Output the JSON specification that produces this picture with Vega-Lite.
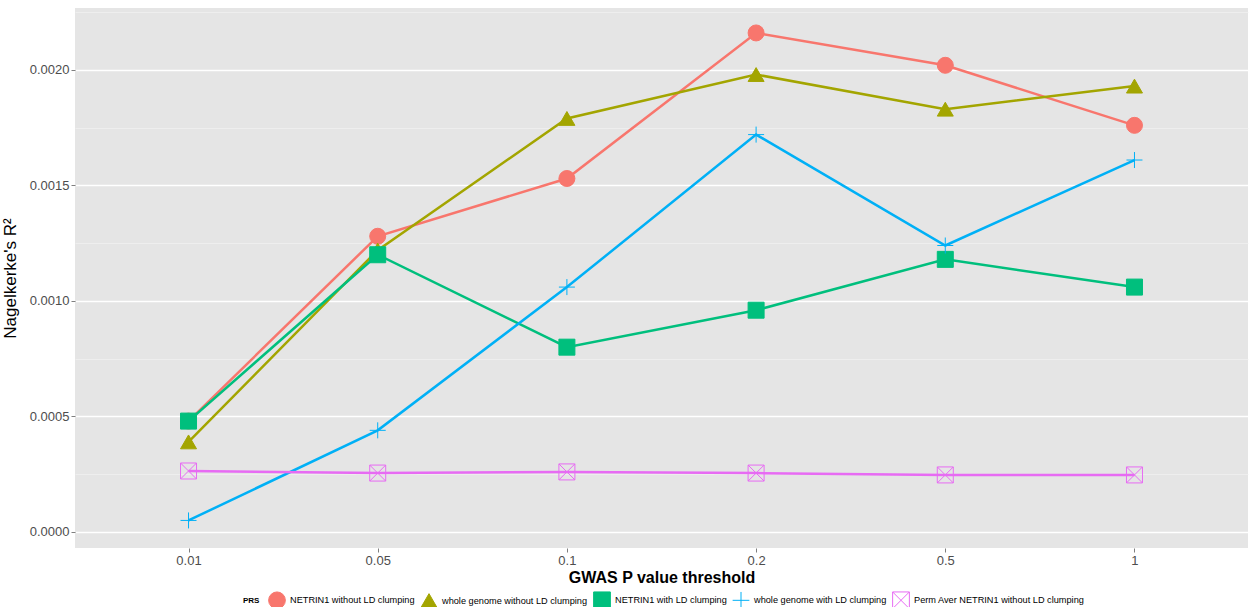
{
  "$schema": "https://vega.github.io/schema/vega-lite/v6.json",
  "width": 1173,
  "height": 540,
  "autosize": {"type": "none"},
  "padding": {"left": 75, "top": 8, "right": 2, "bottom": 59},
  "background": "white",
  "config": {
    "font": "Liberation Sans",
    "view": {"fill": "#E5E5E5", "stroke": null},
    "axis": {"domain": false, "gridColor": "white", "tickColor": "#7F7F7F", "tickSize": 4, "labelColor": "#4D4D4D", "labelFontSize": 13, "labelFont": "Liberation Sans", "titleFont": "Liberation Sans"}
  },
  "data": {
    "values": [
      {"p": "0.01", "series": "NETRIN1 without LD clumping", "r2": 0.00048},
      {"p": "0.05", "series": "NETRIN1 without LD clumping", "r2": 0.00128},
      {"p": "0.1", "series": "NETRIN1 without LD clumping", "r2": 0.00153},
      {"p": "0.2", "series": "NETRIN1 without LD clumping", "r2": 0.00216},
      {"p": "0.5", "series": "NETRIN1 without LD clumping", "r2": 0.00202},
      {"p": "1", "series": "NETRIN1 without LD clumping", "r2": 0.00176},
      {"p": "0.01", "series": "whole genome without LD clumping", "r2": 0.00039},
      {"p": "0.05", "series": "whole genome without LD clumping", "r2": 0.00122},
      {"p": "0.1", "series": "whole genome without LD clumping", "r2": 0.00179},
      {"p": "0.2", "series": "whole genome without LD clumping", "r2": 0.00198},
      {"p": "0.5", "series": "whole genome without LD clumping", "r2": 0.00183},
      {"p": "1", "series": "whole genome without LD clumping", "r2": 0.00193},
      {"p": "0.01", "series": "NETRIN1 with LD clumping", "r2": 0.00048},
      {"p": "0.05", "series": "NETRIN1 with LD clumping", "r2": 0.0012},
      {"p": "0.1", "series": "NETRIN1 with LD clumping", "r2": 0.0008},
      {"p": "0.2", "series": "NETRIN1 with LD clumping", "r2": 0.00096},
      {"p": "0.5", "series": "NETRIN1 with LD clumping", "r2": 0.00118},
      {"p": "1", "series": "NETRIN1 with LD clumping", "r2": 0.00106},
      {"p": "0.01", "series": "whole genome with LD clumping", "r2": 0.00005},
      {"p": "0.05", "series": "whole genome with LD clumping", "r2": 0.00044},
      {"p": "0.1", "series": "whole genome with LD clumping", "r2": 0.00106},
      {"p": "0.2", "series": "whole genome with LD clumping", "r2": 0.00172},
      {"p": "0.5", "series": "whole genome with LD clumping", "r2": 0.00124},
      {"p": "1", "series": "whole genome with LD clumping", "r2": 0.00161},
      {"p": "0.01", "series": "Perm Aver NETRIN1 without LD clumping", "r2": 0.000264},
      {"p": "0.05", "series": "Perm Aver NETRIN1 without LD clumping", "r2": 0.000255},
      {"p": "0.1", "series": "Perm Aver NETRIN1 without LD clumping", "r2": 0.00026},
      {"p": "0.2", "series": "Perm Aver NETRIN1 without LD clumping", "r2": 0.000255},
      {"p": "0.5", "series": "Perm Aver NETRIN1 without LD clumping", "r2": 0.000247},
      {"p": "1", "series": "Perm Aver NETRIN1 without LD clumping", "r2": 0.000247}
    ]
  },
  "encoding": {
    "x": {
      "field": "p", "type": "ordinal", "sort": ["0.01", "0.05", "0.1", "0.2", "0.5", "1"],
      "scale": {"type": "point", "padding": 0.6},
      "axis": {"title": "GWAS P value threshold", "titleFontSize": 16, "titleFontWeight": "bold", "titleColor": "black", "labelAngle": 0, "gridWidth": 1.4, "labelPadding": 2, "titlePadding": 2}
    },
    "y": {
      "field": "r2", "type": "quantitative",
      "scale": {"domain": [-0.0000693, 0.002268], "nice": false, "zero": false},
      "axis": {
        "title": "Nagelkerke's R²", "titleFontSize": 17, "titleFontWeight": "normal", "titleColor": "black", "titlePadding": 10,
        "values": [0, 0.00025, 0.0005, 0.00075, 0.001, 0.00125, 0.0015, 0.00175, 0.002, 0.00225],
        "format": ".4f",
        "labelExpr": "abs(datum.value*2000 - round(datum.value*2000)) < 0.01 ? datum.label : ''",
        "tickOpacity": {"condition": {"test": "abs(datum.value*2000 - round(datum.value*2000)) < 0.01", "value": 1}, "value": 0},
        "gridColor": {"condition": {"test": "abs(datum.value*2000 - round(datum.value*2000)) < 0.01", "value": "#FFFFFF"}, "value": "#F2F2F2"},
        "gridWidth": {"condition": {"test": "abs(datum.value*2000 - round(datum.value*2000)) < 0.01", "value": 1.4}, "value": 0.7}
      }
    }
  },
  "layer": [
    {
      "mark": {"type": "line", "strokeWidth": 2.5},
      "encoding": {
        "stroke": {"field": "series", "type": "nominal",
          "scale": {"domain": ["NETRIN1 without LD clumping", "whole genome without LD clumping", "NETRIN1 with LD clumping", "whole genome with LD clumping", "Perm Aver NETRIN1 without LD clumping"],
                    "range": ["#F8766D", "#A3A500", "#00BF7D", "#00B0F6", "#E76BF3"]}}
      }
    },
    {
      "mark": {"type": "point", "filled": false, "strokeWidth": 1, "opacity": 1, "size": 256},
      "encoding": {
        "stroke": {"field": "series", "type": "nominal",
          "legend": {"orient": "none", "legendX": 168, "legendY": 583, "direction": "horizontal", "title": "PRS", "titleOrient": "left", "titleFontSize": 8, "titleFontWeight": "bold", "labelFontSize": 9.2, "labelLimit": 400, "labelColor": "black", "symbolSize": 280, "symbolStrokeWidth": 1, "columnPadding": 3, "labelOffset": 4, "titlePadding": 8}},
        "fill": {"field": "series", "type": "nominal",
          "scale": {"domain": ["NETRIN1 without LD clumping", "whole genome without LD clumping", "NETRIN1 with LD clumping", "whole genome with LD clumping", "Perm Aver NETRIN1 without LD clumping"],
                    "range": ["#F8766D", "#A3A500", "#00BF7D", "transparent", "transparent"]},
          "legend": {"orient": "none", "legendX": 168, "legendY": 583, "direction": "horizontal", "title": "PRS", "titleOrient": "left", "titleFontSize": 8, "titleFontWeight": "bold", "labelFontSize": 9.2, "labelLimit": 400, "labelColor": "black", "symbolSize": 280, "symbolStrokeWidth": 1, "columnPadding": 3, "labelOffset": 4, "titlePadding": 8}},
        "shape": {"field": "series", "type": "nominal",
          "scale": {"domain": ["NETRIN1 without LD clumping", "whole genome without LD clumping", "NETRIN1 with LD clumping", "whole genome with LD clumping", "Perm Aver NETRIN1 without LD clumping"],
                    "range": ["circle", "triangle-up", "square", "M-1,0L1,0M0,-1L0,1", "M-1,-1L1,-1L1,1L-1,1ZM-1,-1L1,1M-1,1L1,-1"]},
          "legend": {"orient": "none", "legendX": 168, "legendY": 583, "direction": "horizontal", "title": "PRS", "titleOrient": "left", "titleFontSize": 8, "titleFontWeight": "bold", "labelFontSize": 9.2, "labelLimit": 400, "labelColor": "black", "symbolSize": 280, "symbolStrokeWidth": 1, "columnPadding": 3, "labelOffset": 4, "titlePadding": 8}}
      }
    }
  ]
}
